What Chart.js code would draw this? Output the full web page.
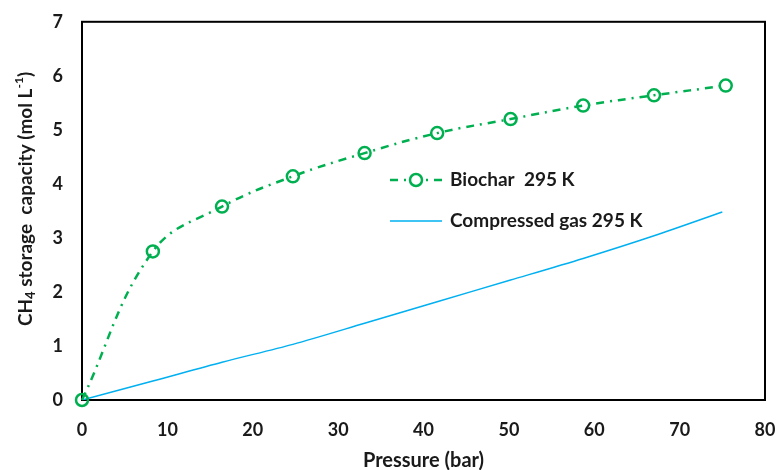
<!DOCTYPE html>
<html>
<head>
<meta charset="utf-8">
<script src="https://cdn.jsdelivr.net/npm/chart.js@4"></script>
<style>
  html, body { margin: 0; padding: 0; background: #fff; }
  #wrap { width: 778px; height: 470px; }
</style>
</head>
<body>
<div id="wrap"><canvas id="grafica" width="778" height="470"></canvas></div>
<script>
// datos de las curvas
const presionBiochar = [0, 8.3, 16.4, 24.7, 33.1, 41.6, 50.2, 58.7, 67.0, 75.4];
const capBiochar = [0, 2.75, 3.58, 4.14, 4.57, 4.94, 5.2, 5.45, 5.64, 5.82];
const presionGas = [0, 8.3, 16.4, 24.7, 33.1, 41.6, 50.2, 58.7, 67.0, 75.0];
const capGas = [0, 0.35, 0.7, 1.03, 1.42, 1.82, 2.22, 2.62, 3.04, 3.48];
const ticksX = [0, 10, 20, 30, 40, 50, 60, 70, 80];
const ticksY = [0, 1, 2, 3, 4, 5, 6, 7];
const etiquetas = ['Biochar  295 K', 'Compressed gas 295 K'];

const fuente = 'Lato, "Open Sans", sans-serif';
const verde = '#00B050';
const azul = '#00B0F0';

function puntos(xs, ys) {
  return xs.map((x, i) => ({ x: x, y: ys[i] }));
}

// caja negra alrededor del area de la grafica
const marco = {
  id: 'marco',
  beforeDatasetsDraw(chart) {
    const a = chart.chartArea;
    const ctx = chart.ctx;
    ctx.save();
    ctx.strokeStyle = '#000';
    ctx.lineWidth = 2;
    ctx.strokeRect(a.left, a.top, a.right - a.left, a.bottom - a.top);
    ctx.restore();
  }
};

// titulo del eje y con subindice y superindice
const tituloY = {
  id: 'tituloY',
  afterDraw(chart) {
    const ctx = chart.ctx;
    const partes = [
      { t: 'CH', s: 19, dy: 0 },
      { t: '4', s: 13, dy: 5 },
      { t: ' storage  capacity (mol L', s: 19, dy: 0 },
      { t: '-1', s: 12, dy: -7 },
      { t: ')', s: 19, dy: 0 }
    ];
    ctx.save();
    let total = 0;
    partes.forEach((p) => {
      ctx.font = 'bold ' + p.s + 'px ' + fuente;
      p.w = ctx.measureText(p.t).width;
      total += p.w;
    });
    ctx.translate(26, 199);
    ctx.rotate(-Math.PI / 2);
    ctx.fillStyle = '#1a1a1a';
    ctx.textBaseline = 'middle';
    let x = -total / 2;
    partes.forEach((p) => {
      ctx.font = 'bold ' + p.s + 'px ' + fuente;
      ctx.fillText(p.t, x, p.dy);
      x += p.w;
    });
    ctx.restore();
  }
};

// leyenda dentro del area de la grafica
const leyenda = {
  id: 'leyenda',
  afterDraw(chart) {
    const ctx = chart.ctx;
    const filas = [180, 221];
    ctx.save();
    chart.data.datasets.forEach((ds, i) => {
      const y = filas[i];
      ctx.strokeStyle = ds.borderColor;
      ctx.lineWidth = ds.borderWidth;
      ctx.setLineDash(ds.borderDash || []);
      ctx.beginPath();
      ctx.moveTo(390, y);
      ctx.lineTo(442, y);
      ctx.stroke();
      ctx.setLineDash([]);
      if (ds.pointRadius > 0) {
        ctx.fillStyle = '#fff';
        ctx.lineWidth = ds.pointBorderWidth;
        ctx.beginPath();
        ctx.arc(416, y, ds.pointRadius, 0, Math.PI * 2);
        ctx.fill();
        ctx.stroke();
      }
      ctx.fillStyle = '#1a1a1a';
      ctx.font = 'bold 19px ' + fuente;
      ctx.textBaseline = 'middle';
      ctx.fillText(ds.label, 450, y);
    });
    ctx.restore();
  }
};

const config = {
  type: 'line',
  data: {
    datasets: [
      {
        label: etiquetas[0],
        data: puntos(presionBiochar, capBiochar),
        borderColor: verde,
        borderWidth: 2.5,
        borderDash: [8, 6, 2, 6],
        tension: 0.4,
        pointRadius: 6,
        pointBorderWidth: 2.5,
        pointBorderColor: verde,
        pointBackgroundColor: 'rgba(255,255,255,0)',
        clip: false,
        fill: false
      },
      {
        label: etiquetas[1],
        data: puntos(presionGas, capGas),
        borderColor: azul,
        borderWidth: 1.5,
        tension: 0.3,
        pointRadius: 0,
        fill: false
      }
    ]
  },
  options: {
    responsive: false,
    animation: false,
    layout: { padding: { top: 10, right: 0, left: 0, bottom: 0 } },
    plugins: {
      legend: { display: false },
      tooltip: { enabled: false }
    },
    scales: {
      x: {
        type: 'linear',
        min: 0,
        max: 80,
        afterBuildTicks: (s) => { s.ticks = ticksX.map((v) => ({ value: v })); },
        afterFit: (s) => {
          s.height = 70;
          s.paddingRight = 13;
        },
        grid: { display: false },
        border: { display: false },
        ticks: { color: '#1a1a1a', font: { family: fuente, size: 18, weight: 'bold' }, padding: 11 },
        title: {
          display: true,
          text: 'Pressure (bar)',
          color: '#1a1a1a',
          font: { family: fuente, size: 20, weight: 'bold' },
          padding: { top: 0, bottom: -3 }
        }
      },
      y: {
        min: 0,
        max: 7,
        afterBuildTicks: (s) => { s.ticks = ticksY.map((v) => ({ value: v })); },
        afterFit: (s) => { s.width = 82; },
        grid: { display: false },
        border: { display: false },
        ticks: { color: '#1a1a1a', font: { family: fuente, size: 18, weight: 'bold' }, padding: 11 }
      }
    }
  },
  plugins: [marco, tituloY, leyenda]
};

let miGrafica = new Chart(document.querySelector('#grafica'), config);
</script>
</body>
</html>
